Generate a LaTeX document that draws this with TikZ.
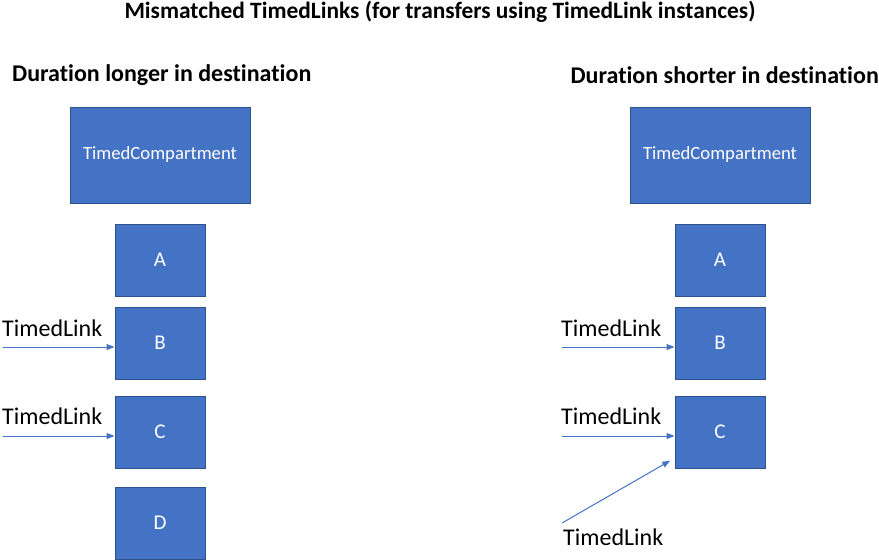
\documentclass[tikz,border=0pt]{standalone}
\usepackage{fontspec}
\setmainfont{Carlito}[Ligatures={NoCommon}]
\usetikzlibrary{arrows.meta}

\definecolor{boxblue}{HTML}{4472C4}
\definecolor{boxedge}{HTML}{2F528F}

\tikzset{
  compbox/.style={draw=boxedge,fill=boxblue,line width=1pt,text=white,inner sep=0pt,
    minimum width=180pt,minimum height=96pt,font=\fontsize{18.7}{22}\selectfont},
  cellbox/.style={draw=boxedge,fill=boxblue,line width=1pt,text=white,inner sep=0pt,
    minimum width=90pt,minimum height=72pt,font=\fontsize{21}{25}\selectfont},
  link/.style={draw=boxblue,line width=1pt,-{Triangle[length=8pt,width=6pt]}},
  linklabel/.style={anchor=west,inner sep=0pt,font=\fontsize{24}{28}\selectfont},
  heading/.style={inner sep=0pt,font=\fontsize{24}{28}\selectfont\bfseries}
}

\begin{document}
\begin{tikzpicture}[x=1pt,y=-1pt]
  \useasboundingbox (0,0) rectangle (879,560);
  \node[heading,font=\fontsize{23.4}{27}\selectfont\bfseries] (title) at (440,12)
    {Mismatched TimedLinks (for transfers using TimedLink instances)};
  \node[heading,anchor=west] (lhead) at (12,75) {Duration longer in destination};
  \node[heading,anchor=east] (rhead) at (879,75) {Duration shorter in destination};

  % left side
  \node[compbox] (lcomp) at (160,155) {TimedCompartment};
  \node[cellbox] (lA) at (160,260) {A};
  \node[cellbox] (lB) at (160,343) {B};
  \node[cellbox] (lC) at (160,432) {C};
  \node[cellbox] (lD) at (160,523) {D};
  \coordinate (lsB) at (3,347);
  \coordinate (lsC) at (3,436);
  \draw[link] (lsB) -- (lsB -| lB.west);
  \draw[link] (lsC) -- (lsC -| lC.west);
  \node[linklabel] (llB) at (2,328) {TimedLink};
  \node[linklabel] (llC) at (2,416) {TimedLink};

  % right side
  \node[compbox] (rcomp) at (720,155) {TimedCompartment};
  \node[cellbox] (rA) at (720,260) {A};
  \node[cellbox] (rB) at (720,343) {B};
  \node[cellbox] (rC) at (720,432) {C};
  \coordinate (rsB) at (562,347);
  \coordinate (rsC) at (562,436);
  \coordinate (rsD) at (562,523);
  \draw[link] (rsB) -- (rsB -| rB.west);
  \draw[link] (rsC) -- (rsC -| rC.west);
  \draw[link,shorten >=5pt] (rsD) -- (rC);
  \node[linklabel] (rlB) at (561,328) {TimedLink};
  \node[linklabel] (rlC) at (561,416) {TimedLink};
  \node[linklabel] (rlD) at (563,537) {TimedLink};
\end{tikzpicture}
\end{document}
